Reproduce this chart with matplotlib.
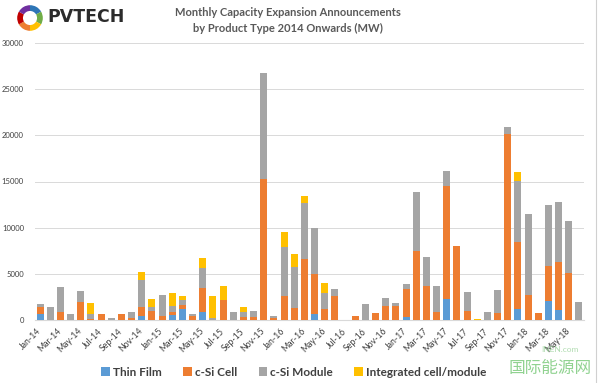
import matplotlib
matplotlib.use("Agg")
import matplotlib.pyplot as plt
import numpy as np

# monthly announcements (MW), Jan-14 .. Jun-18
months = ["Jan-14", "Feb-14", "Mar-14", "Apr-14", "May-14", "Jun-14", "Jul-14", "Aug-14", "Sep-14", "Oct-14", "Nov-14", "Dec-14",
          "Jan-15", "Feb-15", "Mar-15", "Apr-15", "May-15", "Jun-15", "Jul-15", "Aug-15", "Sep-15", "Oct-15", "Nov-15", "Dec-15",
          "Jan-16", "Feb-16", "Mar-16", "Apr-16", "May-16", "Jun-16", "Jul-16", "Aug-16", "Sep-16", "Oct-16", "Nov-16", "Dec-16",
          "Jan-17", "Feb-17", "Mar-17", "Apr-17", "May-17", "Jun-17", "Jul-17", "Aug-17", "Sep-17", "Oct-17", "Nov-17", "Dec-17",
          "Jan-18", "Feb-18", "Mar-18", "Apr-18", "May-18", "Jun-18"]

thin_film = [650, 0, 0, 0, 0, 0, 0, 0, 0, 0, 450, 0,
             0, 500, 1200, 0, 850, 0, 0, 0, 0, 0, 0, 0,
             0, 0, 0, 700, 0, 0, 0, 0, 0, 0, 0, 0,
             350, 0, 0, 0, 2250, 0, 0, 0, 0, 0, 0, 1150,
             0, 0, 2100, 1100, 0, 0]
csi_cell = [800, 0, 900, 0, 2000, 100, 700, 0, 700, 200, 1000, 1000,
            400, 400, 400, 400, 2650, 0, 2200, 0, 300, 300, 15300, 200,
            2550, 1300, 6600, 4300, 1200, 2550, 0, 450, 0, 750, 1500, 1550,
            3050, 7500, 3650, 900, 12300, 8050, 1000, 0, 0, 750, 20100, 7300,
            2750, 750, 3800, 5200, 5100, 0]
csi_module = [250, 1400, 2700, 700, 1100, 500, 0, 200, 0, 700, 2850, 400,
              2300, 600, 600, 250, 2100, 200, 0, 900, 600, 700, 11400, 250,
              5400, 4400, 6100, 4950, 1750, 850, 0, 0, 1750, 0, 900, 300,
              550, 6400, 3150, 2750, 1600, 0, 2050, 0, 850, 2450, 800, 6600,
              8700, 0, 6600, 6450, 5650, 1900]
integrated = [0, 0, 0, 0, 0, 1200, 0, 0, 0, 0, 900, 900,
              0, 1400, 400, 0, 1100, 2450, 1450, 0, 500, 0, 0, 0,
              1600, 1500, 700, 0, 1050, 0, 0, 0, 0, 0, 0, 0,
              0, 0, 0, 0, 0, 0, 0, 100, 0, 0, 0, 1000,
              0, 0, 0, 0, 0, 0]

series_names = ["Thin Film", "c-Si Cell", "c-Si Module", "Integrated cell/module"]
colors = ["#5B9BD5", "#ED7D31", "#A5A5A5", "#FFC000"]
logo_colors = ["#2E75B6", "#70AD47", "#FFC000", "#ED7D31", "#C00000", "#7030A0"]

plt.rcParams['font.family'] = ['Lato', 'DejaVu Sans']

fig = plt.figure(figsize=(6, 3.83), dpi=100)
ax = fig.add_axes([35/600, 63/383, 549/600, 277/383])

x = np.arange(len(months))
bottom = np.zeros(len(months))
for name, vals, c in zip(series_names, [thin_film, csi_cell, csi_module, integrated], colors):
    vals = np.array(vals, dtype=float)
    ax.bar(x, vals, 0.68, bottom=bottom, color=c, label=name, zorder=3)
    bottom += vals

ax.set_xlim(-0.5, len(months) - 0.5)
ax.set_ylim(0, 30000)
ax.set_yticks(range(0, 30001, 5000))
ax.grid(axis='y', color='#D9D9D9', lw=0.7, zorder=0)
for s in ['top', 'right', 'left']:
    ax.spines[s].set_visible(False)
ax.spines['bottom'].set_color('#D9D9D9')
ax.tick_params(axis='y', length=0, labelsize=5.5, labelcolor='#404040', pad=8)
ax.set_xticks(x[::2])
ax.set_xticklabels(months[::2], rotation=45, ha='right', va='center', rotation_mode='anchor',
                   fontsize=6.3, color='#404040')
ax.tick_params(axis='x', length=0, pad=7)

leg = fig.legend(loc='center', bbox_to_anchor=(0.49, 1 - 372/383), ncol=4, frameon=False,
                 fontsize=8.5, handlelength=0.7, handleheight=0.7, handletextpad=0.3, columnspacing=1.8)
for t in leg.get_texts():
    t.set_color('#404040')
    t.set_fontweight('bold')

# titles
fig.text(0.48, 1 - 12/383, "Monthly Capacity Expansion Announcements", ha='center', va='center',
         fontsize=8, fontweight='bold', color='#595959')
fig.text(0.48, 1 - 28/383, "by Product Type 2014 Onwards (MW)", ha='center', va='center',
         fontsize=8, fontweight='bold', color='#595959')

# PVTECH logo
lax = fig.add_axes([14/600, 1 - 34/383, 32/600, 32/383])
lax.pie([1] * len(logo_colors), colors=logo_colors, startangle=90, counterclock=False,
        wedgeprops=dict(width=0.45, edgecolor='none'))
lax.set_aspect('equal')
fig.text(47/600, 1 - 17/383, "PVTECH", ha='left', va='center', fontsize=12.5, fontweight='bold',
         color='#2b2b2b', family='DejaVu Sans')

# watermark
fig.text(592/600, 1 - 368/383, "国际能源网", ha='right', va='center', fontsize=12,
         color='#6CC46C', alpha=0.75, family=['Noto Sans CJK SC', 'DejaVu Sans'])
fig.text(560/600, 1 - 350/383, "INEN.com", ha='center', va='center', fontsize=6,
         color='#7CC47C', alpha=0.6)

fig.add_artist(plt.Line2D([596/600, 596/600], [0, 1], color='#D0D0D0', lw=0.8))

fig.savefig("out.png", dpi=100)
